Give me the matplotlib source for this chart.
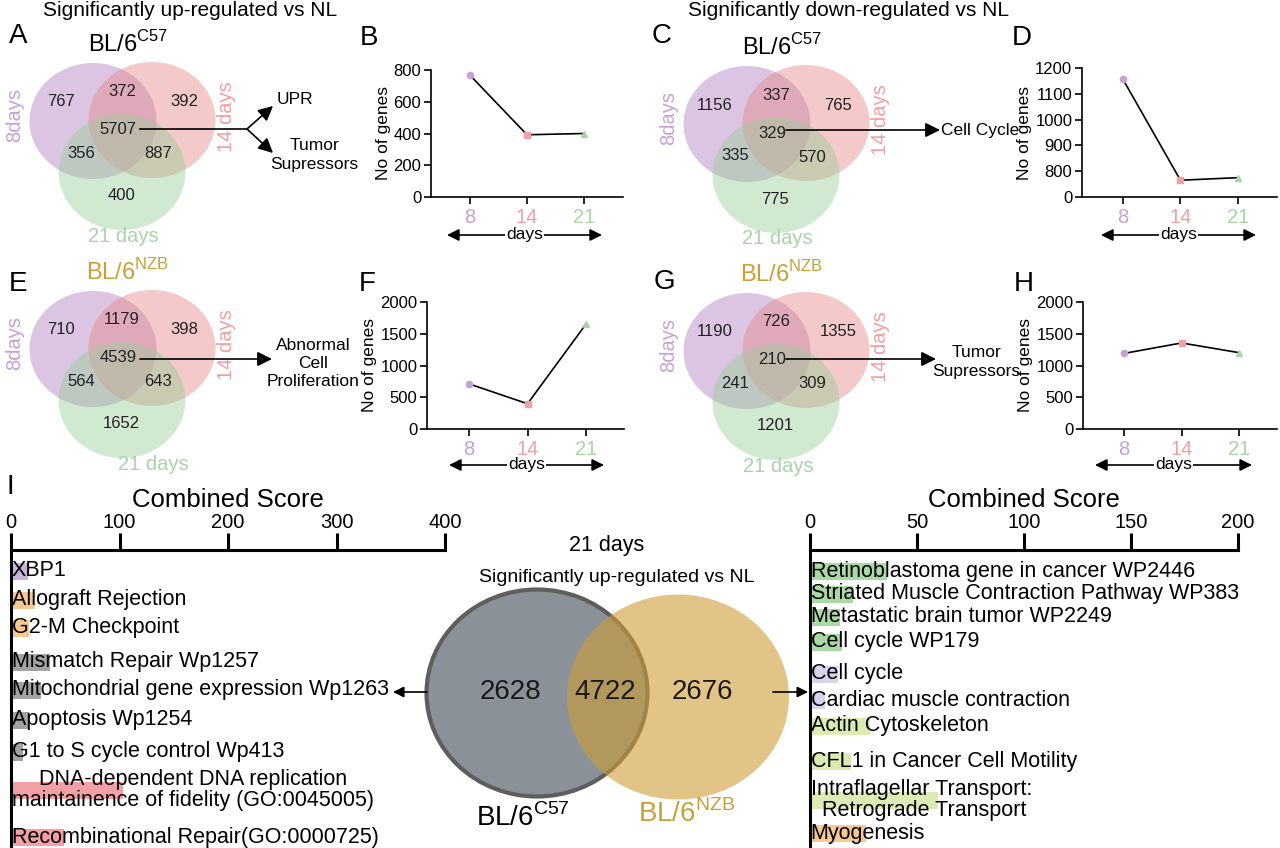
import matplotlib
matplotlib.use('Agg')
import matplotlib.pyplot as plt
from matplotlib.patches import Ellipse
import numpy as np

plt.rcParams['font.family'] = ['Liberation Sans', 'DejaVu Sans']
plt.rcParams['mathtext.fontset'] = 'custom'
plt.rcParams['mathtext.rm'] = 'Liberation Sans'

# ---------------- data ----------------
days = ['8', '14', '21']
day_names = ['8days', '14 days', '21 days']
# region order: only8, 8&14, only14, all, 8&21, 14&21, only21
up_c57 = [767, 372, 392, 5707, 356, 887, 400]
down_c57 = [1156, 337, 765, 329, 335, 570, 775]
up_nzb = [710, 1179, 398, 4539, 564, 643, 1652]
down_nzb = [1190, 726, 1355, 210, 241, 309, 1201]

genes_up_c57 = [767, 392, 400]
genes_down_c57 = [1156, 765, 775]
genes_up_nzb = [710, 398, 1652]
genes_down_nzb = [1190, 1355, 1201]

venn21_counts = [2628, 4722, 2676]

left_terms = ['XBP1', 'Allograft Rejection', 'G2-M Checkpoint',
              'Mismatch Repair Wp1257', 'Mitochondrial gene expression Wp1263',
              'Apoptosis Wp1254', 'G1 to S cycle control Wp413',
              'DNA-dependent DNA replication\nmaintainence of fidelity (GO:0045005)',
              'Recombinational Repair(GO:0000725)']
left_scores = [16, 22, 17, 36, 28, 17, 11, 103, 49]
left_groups = ['tf', 'hallmark', 'hallmark', 'wiki', 'wiki', 'wiki', 'wiki', 'go', 'go']

right_terms = ['Retinoblastoma gene in cancer WP2446',
               'Striated Muscle Contraction Pathway WP383',
               'Metastatic brain tumor WP2249', 'Cell cycle WP179',
               'Cell cycle', 'Cardiac muscle contraction', 'Actin Cytoskeleton',
               'CFL1 in Cancer Cell Motility',
               'Intraflagellar Transport:\n Retrograde Transport', 'Myogenesis']
right_scores = [36, 20, 14, 15, 13, 7, 28, 19, 60, 26]
right_groups = ['wiki', 'wiki', 'wiki', 'wiki', 'kegg', 'kegg', 'bio', 'bio', 'bio', 'hallmark']

# ---------------- style ----------------
W, H = 1280, 848
day_colors = ['#c9a0d6', '#f0a0a0', '#a8d4a8']
venn_fill = ['#b37fc1', '#e58989', '#99cd99']
gold = '#c9a035'
group_colors = {'tf': '#c9b3db', 'hallmark': '#f6c992', 'wiki': '#a3a3a3', 'go': '#f2a0a6',
                'kegg': '#d5d3ee', 'bio': '#dcebb4'}
right_color_map = dict(group_colors, wiki='#a9d9a4')

fig = plt.figure(figsize=(12.8, 8.48), dpi=100)
ov = fig.add_axes([0, 0, 1, 1])
ov.set_xlim(0, W)
ov.set_ylim(H, 0)
ov.axis('off')


def ax_at(l, t, r, b):
    a = fig.add_axes([l / W, 1 - b / H, (r - l) / W, (b - t) / H])
    a.set_facecolor('none')
    return a


def arrow(x0, y0, x1, y1, style='-|>', ms=22, lw=1.2):
    ov.annotate('', xy=(x1, y1), xytext=(x0, y0),
                arrowprops=dict(arrowstyle=style, color='black', lw=lw,
                                mutation_scale=ms, shrinkA=0, shrinkB=0))


# ---------------- 3-way venns ----------------
circle_c = [(93, 121), (152, 120), (122, 172)]
region_xy = [(61, 102), (122, 92), (184, 102), (118, 130), (81, 153), (158, 154), (121, 196)]


def venn3(dx, dy, counts, strain, strain_color, label21_x):
    for (cx, cy), col in zip(circle_c, venn_fill):
        ov.add_patch(Ellipse((cx + dx, cy + dy), 127, 116, facecolor=col,
                             alpha=0.45, edgecolor='none'))
    for (x, y), c in zip(region_xy, counts):
        ov.text(x + dx, y + dy, str(c), fontsize=12, ha='center', va='center',
                color='#222222')
    ov.text(15 + dx, 115 + dy, day_names[0], rotation=90, fontsize=14.5,
            color=day_colors[0], ha='center', va='center')
    ov.text(227 + dx, 117 + dy, day_names[1], rotation=90, fontsize=14.5,
            color=day_colors[1], ha='center', va='center')
    ov.text(label21_x + dx, 236 + dy, day_names[2], fontsize=14.5,
            color=day_colors[2], ha='center', va='center')
    ov.text(128 + dx, 44 + dy, strain, fontsize=17, color=strain_color,
            ha='center', va='center')


c57 = r'BL/6$^{\mathregular{C57}}$'
nzb = r'BL/6$^{\mathregular{NZB}}$'
venn3(0, 0, up_c57, c57, 'black', 123)
venn3(654, 3, down_c57, c57, 'black', 123)
venn3(0, 228, up_nzb, nzb, gold, 153)
venn3(654, 230, down_nzb, nzb, gold, 124)

# titles and panel letters
ov.text(190, 10, 'Significantly up-regulated vs NL', fontsize=15, ha='center', va='center')
ov.text(848, 10, 'Significantly down-regulated vs NL', fontsize=15, ha='center', va='center')
for lbl, x, y in [('A', 18, 36), ('B', 369, 38), ('C', 662, 36), ('D', 1022, 38),
                  ('E', 18, 284), ('F', 367, 284), ('G', 664, 282), ('H', 1024, 284),
                  ('I', 10, 487)]:
    ov.text(x, y, lbl, fontsize=20, ha='center', va='center')

# venn arrows and annotations
ov.plot([140, 247], [129, 129], color='black', lw=1.2)
arrow(247, 129, 273, 106)
arrow(247, 129, 273, 153)
ov.text(277, 100, 'UPR', fontsize=12.5, ha='left', va='center')
ov.text(314, 155, 'Tumor\nSupressors', fontsize=12.5, ha='center', va='center',
        multialignment='center', linespacing=1.3)

arrow(786, 130, 940, 130)
ov.text(941, 130, 'Cell Cycle', fontsize=12.5, ha='left', va='center')

arrow(140, 359, 272, 359)
ov.text(313, 364, 'Abnormal\nCell\nProliferation', fontsize=12.5, ha='center',
        va='center', multialignment='center', linespacing=1.25)

arrow(786, 359, 936, 359)
ov.text(976, 362, 'Tumor\nSupressors', fontsize=12.5, ha='center', va='center',
        multialignment='center', linespacing=1.3)


# ---------------- line panels ----------------
markers = ['o', 's', '^']


def line_panel(box, vals, ylim, yticks, yticklabels, xlim, arrow_x, arrow_y):
    ax = ax_at(*box)
    x = np.arange(len(vals))
    ax.plot(x, vals, color='black', lw=1.2, zorder=2)
    for xi, v, c, m in zip(x, vals, day_colors, markers):
        ax.plot(xi, v, marker=m, color=c, ms=4.5, zorder=3, clip_on=False)
    ax.set_xlim(*xlim)
    ax.set_ylim(*ylim)
    ax.set_yticks(yticks)
    ax.set_yticklabels(yticklabels, fontsize=12)
    ax.set_xticks(x)
    ax.set_xticklabels(days, fontsize=14.5)
    for t, c in zip(ax.get_xticklabels(), day_colors):
        t.set_color(c)
    for s in ['top', 'right']:
        ax.spines[s].set_visible(False)
    for s in ['left', 'bottom']:
        ax.spines[s].set_linewidth(1.2)
    ax.tick_params(length=5, width=1.2, pad=2)
    ax.tick_params(axis='x', pad=3)
    ax.set_ylabel('No of genes', fontsize=12.5, labelpad=2)
    # days arrow
    arrow(arrow_x[0], arrow_y, arrow_x[1], arrow_y, style='<|-|>', ms=18)
    ov.text((arrow_x[0] + arrow_x[1]) / 2, arrow_y, 'days', fontsize=12.5,
            ha='center', va='center',
            bbox=dict(facecolor='white', edgecolor='none', pad=0.5))
    return ax


line_panel((431, 70, 623, 197), genes_up_c57, (0, 800), [0, 200, 400, 600, 800],
           ['0', '200', '400', '600', '800'], (-0.684, 2.684), (447, 602), 235)
line_panel((1082, 68, 1277, 197), genes_down_c57, (700, 1200),
           [700, 800, 900, 1000, 1100, 1200],
           ['0', '800', '900', '1000', '1100', '1200'], (-0.713, 2.68), (1101, 1256), 235)
line_panel((427, 302, 624, 429), genes_up_nzb, (0, 2000), [0, 500, 1000, 1500, 2000],
           ['0', '500', '1000', '1500', '2000'], (-0.72, 2.65), (449, 604), 465)
axh = line_panel((1083, 302, 1277, 429), genes_down_nzb, (0, 2000),
                 [0, 500, 1000, 1500, 2000],
                 ['0', '500', '1000', '1500', '2000'], (-0.707, 2.65), (1095, 1252), 465)

# ---------------- central 2-way venn ----------------
ov.add_patch(Ellipse((537, 693), 221, 207, facecolor='#8a9199', edgecolor='#5e5e5e', lw=3))
ov.add_patch(Ellipse((678, 697), 222, 205, facecolor=(207 / 255, 158 / 255, 55 / 255),
                     alpha=0.6, edgecolor='none'))
for x, c in zip([510, 605, 702], venn21_counts):
    ov.text(x, 692, str(c), fontsize=20, ha='center', va='center', color='#1a1a1a')
ov.text(607, 546, '21 days', fontsize=15.5, ha='center', va='center')
ov.text(617, 578, 'Significantly up-regulated vs NL', fontsize=14, ha='center', va='center')
ov.text(523, 818, c57, fontsize=20, ha='center', va='center')
ov.text(687, 814, nzb, fontsize=20, ha='center', va='center', color=gold)
arrow(427, 692, 393, 692, ms=16)
arrow(773, 692, 808, 692, ms=16)

# ---------------- enrichment bar panels ----------------
left_rows = [571, 600, 628, 662, 690, 720, 752, 790, 837]
right_rows = [571, 594, 617, 642, 674, 700, 726, 761, 800, 833]


def bar_panel(box, terms, scores, groups, cmap, rows, xmax, ticks):
    ax = ax_at(*box)
    ax.set_xlim(0, xmax)
    ax.set_ylim(H, box[1])
    ax.barh(rows, scores, height=17, color=[cmap[g] for g in groups], zorder=1)
    for y, t in zip(rows, terms):
        ax.text(0.6 * xmax / 400, y, t, fontsize=15.5, ha='left', va='center',
                multialignment='center', zorder=3, clip_on=False, linespacing=1.05)
    ax.xaxis.tick_top()
    ax.xaxis.set_label_position('top')
    ax.set_xticks(ticks)
    ax.set_xticklabels([str(t) for t in ticks], fontsize=14.5)
    ax.set_yticks([])
    for s in ['bottom', 'right']:
        ax.spines[s].set_visible(False)
    for s in ['top', 'left']:
        ax.spines[s].set_linewidth(2.2)
    ax.tick_params(axis='x', direction='out', length=12, width=2.2, pad=1)
    ax.set_xlabel('Combined Score', fontsize=18.5, labelpad=4)
    return ax


bar_panel((11, 550, 445, H), left_terms, left_scores, left_groups, group_colors,
          left_rows, 400, [0, 100, 200, 300, 400])
bar_panel((810, 550, 1238, H), right_terms, right_scores, right_groups, right_color_map,
          right_rows, 200, [0, 50, 100, 150, 200])

fig.savefig('out.png', dpi=100)
